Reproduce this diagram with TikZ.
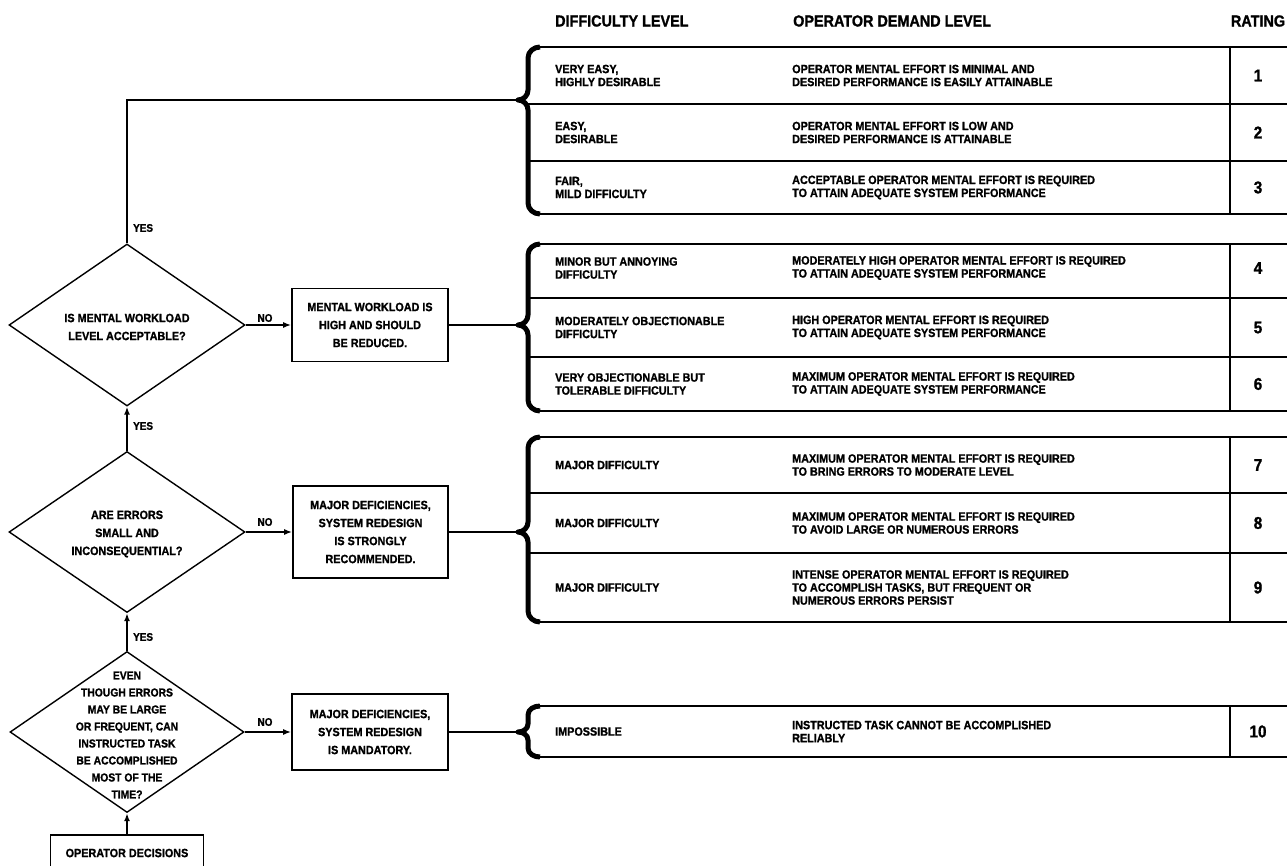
\documentclass[tikz,border=0pt]{standalone}
\usepackage{fontspec}
\setmainfont{Liberation Sans}[FakeStretch=0.9, BoldFeatures={FakeBold=1.2}]
\usetikzlibrary{shapes.geometric,arrows.meta,positioning}

\begin{document}
\begin{tikzpicture}[x=1pt, y=-1pt,
  trait/.style={line width=1.6pt},
  fleche/.style={trait, -{Latex[length=8pt,width=6pt]}},
  losange/.style={diamond, draw, line width=1.4pt, inner sep=0pt},
  boite/.style={draw, line width=1.6pt, inner sep=0pt, align=center,
    font=\fontsize{12}{18}\selectfont\bfseries},
  gras/.style={align=center, inner sep=0pt, font=\fontsize{12}{18}\selectfont\bfseries},
  etiq/.style={inner sep=0pt, font=\fontsize{11}{13}\selectfont\bfseries},
  titre/.style={inner sep=0pt, font=\fontsize{16}{18}\selectfont\bfseries},
  cellule/.style={anchor=west, align=left, inner sep=0pt,
    font=\fontsize{12}{13}\selectfont\bfseries},
  chiffre/.style={inner sep=0pt, font=\fontsize{17}{18}\selectfont\bfseries},
  accolade/.style={line width=5pt, line join=round},
  grille/.style={line width=1.8pt}]

% Paramètres
\def\xg{528}  % bord gauche des tableaux
\def\xn{1230} % colonne des notes
\def\xd{1300} % bord droit (hors cadre)

\path[use as bounding box] (0,0) rectangle (1287,866);
\clip (0,0) rectangle (1287,866);

% En-têtes
\node[titre, anchor=west] (h1) at (555,21) {DIFFICULTY LEVEL};
\node[titre, anchor=west] (h2) at (793,21) {OPERATOR DEMAND LEVEL};
\node[titre] (h3) at (1258,21) {RATING};

% Pointes des accolades
\coordinate (p1) at (\xg-10,100);
\coordinate (p2) at (\xg-10,325);
\coordinate (p3) at (\xg-10,532);
\coordinate (p4) at (\xg-10,732);

% Tableau 1 (notes 1 à 3)
\draw[grille] (\xg+8,47) -- (\xd,47) (\xg,104) -- (\xd,104) (\xg,161) -- (\xd,161)
  (\xg+8,214) -- (\xd,214) (\xn,47) -- (\xn,214);
\draw[accolade] (\xg+12,47) to[out=180,in=90] (\xg,58) -- (\xg,90)
  to[out=-90,in=0] (p1) to[out=0,in=90] (\xg,110) -- (\xg,203) to[out=-90,in=180] (\xg+12,214);

% Tableau 2 (notes 4 à 6)
\draw[grille] (\xg+8,244) -- (\xd,244) (\xg,298) -- (\xd,298) (\xg,357) -- (\xd,357)
  (\xg+8,411) -- (\xd,411) (\xn,244) -- (\xn,411);
\draw[accolade] (\xg+12,244) to[out=180,in=90] (\xg,255) -- (\xg,315)
  to[out=-90,in=0] (p2) to[out=0,in=90] (\xg,335) -- (\xg,400) to[out=-90,in=180] (\xg+12,411);

% Tableau 3 (notes 7 à 9)
\draw[grille] (\xg+8,437) -- (\xd,437) (\xg,493) -- (\xd,493) (\xg,553) -- (\xd,553)
  (\xg+8,622) -- (\xd,622) (\xn,437) -- (\xn,622);
\draw[accolade] (\xg+12,437) to[out=180,in=90] (\xg,448) -- (\xg,522)
  to[out=-90,in=0] (p3) to[out=0,in=90] (\xg,542) -- (\xg,611) to[out=-90,in=180] (\xg+12,622);

% Tableau 4 (note 10)
\draw[grille] (\xg+8,706) -- (\xd,706) (\xg+8,757) -- (\xd,757) (\xn,706) -- (\xn,757);
\draw[accolade] (\xg+12,706) to[out=180,in=90] (\xg,715) -- (\xg,724)
  to[out=-90,in=0] (p4) to[out=0,in=90] (\xg,740) -- (\xg,748) to[out=-90,in=180] (\xg+12,757);

% Lignes des tableaux
\node[cellule] (dif1) at (555,75.5) {VERY EASY,\\HIGHLY DESIRABLE};
\node[cellule] (dem1) at (792,75.5) {OPERATOR MENTAL EFFORT IS MINIMAL AND\\DESIRED PERFORMANCE IS EASILY ATTAINABLE};
\node[chiffre] (note1) at (1258,75.5) {1};

\node[cellule] (dif2) at (555,132.5) {EASY,\\DESIRABLE};
\node[cellule] (dem2) at (792,132.5) {OPERATOR MENTAL EFFORT IS LOW AND\\DESIRED PERFORMANCE IS ATTAINABLE};
\node[chiffre] (note2) at (1258,132.5) {2};

\node[cellule] (dif3) at (555,187.5) {FAIR,\\MILD DIFFICULTY};
\node[cellule] (dem3) at (792,187.5) {ACCEPTABLE OPERATOR MENTAL EFFORT IS REQUIRED\\TO ATTAIN ADEQUATE SYSTEM PERFORMANCE};
\node[chiffre] (note3) at (1258,187.5) {3};

\node[cellule] (dif4) at (555,268) {MINOR BUT ANNOYING\\DIFFICULTY};
\node[cellule] (dem4) at (792,268) {MODERATELY HIGH OPERATOR MENTAL EFFORT IS REQUIRED\\TO ATTAIN ADEQUATE SYSTEM PERFORMANCE};
\node[chiffre] (note4) at (1258,268) {4};

\node[cellule] (dif5) at (555,327.5) {MODERATELY OBJECTIONABLE\\DIFFICULTY};
\node[cellule] (dem5) at (792,327.5) {HIGH OPERATOR MENTAL EFFORT IS REQUIRED\\TO ATTAIN ADEQUATE SYSTEM PERFORMANCE};
\node[chiffre] (note5) at (1258,327.5) {5};

\node[cellule] (dif6) at (555,384) {VERY OBJECTIONABLE BUT\\TOLERABLE DIFFICULTY};
\node[cellule] (dem6) at (792,384) {MAXIMUM OPERATOR MENTAL EFFORT IS REQUIRED\\TO ATTAIN ADEQUATE SYSTEM PERFORMANCE};
\node[chiffre] (note6) at (1258,384) {6};

\node[cellule] (dif7) at (555,465) {MAJOR DIFFICULTY};
\node[cellule] (dem7) at (792,465) {MAXIMUM OPERATOR MENTAL EFFORT IS REQUIRED\\TO BRING ERRORS TO MODERATE LEVEL};
\node[chiffre] (note7) at (1258,465) {7};

\node[cellule] (dif8) at (555,523) {MAJOR DIFFICULTY};
\node[cellule] (dem8) at (792,523) {MAXIMUM OPERATOR MENTAL EFFORT IS REQUIRED\\TO AVOID LARGE OR NUMEROUS ERRORS};
\node[chiffre] (note8) at (1258,523) {8};

\node[cellule] (dif9) at (555,587.5) {MAJOR DIFFICULTY};
\node[cellule] (dem9) at (792,587.5) {INTENSE OPERATOR MENTAL EFFORT IS REQUIRED\\TO ACCOMPLISH TASKS, BUT FREQUENT OR\\NUMEROUS ERRORS PERSIST};
\node[chiffre] (note9) at (1258,587.5) {9};

\node[cellule] (dif10) at (555,731.5) {IMPOSSIBLE};
\node[cellule] (dem10) at (792,731.5) {INSTRUCTED TASK CANNOT BE ACCOMPLISHED\\RELIABLY};
\node[chiffre] (note10) at (1258,731.5) {10};

% Questions (losanges)
\node[losange, minimum width=236, minimum height=162] (q1) at (127,325) {};
\node[gras] (tq1) at (127,327) {IS MENTAL WORKLOAD\\LEVEL ACCEPTABLE?};
\node[losange, minimum width=236, minimum height=161] (q2) at (127,532) {};
\node[gras] (tq2) at (127,534) {ARE ERRORS\\SMALL AND\\INCONSEQUENTIAL?};
\node[losange, minimum width=234, minimum height=161] (q3) at (127,732) {};
\node[gras, font=\fontsize{11.5}{17}\selectfont\bfseries] (tq3) at (127,735)
  {EVEN\\THOUGH ERRORS\\MAY BE LARGE\\OR FREQUENT, CAN\\INSTRUCTED TASK\\BE ACCOMPLISHED\\MOST OF THE\\TIME?};

% Conclusions
\node[boite, minimum width=156, minimum height=73] (r1) at (370,325) {MENTAL WORKLOAD IS\\HIGH AND SHOULD\\BE REDUCED.};
\node[boite, minimum width=155, minimum height=92] (r2) at (370.5,532) {MAJOR DEFICIENCIES,\\SYSTEM REDESIGN\\IS STRONGLY\\RECOMMENDED.};
\node[boite, minimum width=156, minimum height=76] (r3) at (370,732) {MAJOR DEFICIENCIES,\\SYSTEM REDESIGN\\IS MANDATORY.};
\node[boite, minimum width=153, minimum height=60] (op) at (127,865) {};
\node[gras] (top) at (127,853) {OPERATOR DECISIONS};

% Étiquettes
\node[etiq, anchor=west] (oui1) at (133,228) {YES};
\node[etiq, anchor=west] (oui2) at (133,426) {YES};
\node[etiq, anchor=west] (oui3) at (133,637) {YES};
\node[etiq] (non1) at (265,318) {NO};
\node[etiq] (non2) at (265,522) {NO};
\node[etiq] (non3) at (265,722) {NO};

% Liaisons
\draw[trait] (q1.north) |- (p1);
\draw[fleche] (q1.east) -- (r1.west);
\draw[trait] (r1.east) -- (p2);
\draw[fleche] (q2.north) -- (q1.south);
\draw[fleche] (q2.east) -- (r2.west);
\draw[trait] (r2.east) -- (p3);
\draw[fleche] (q3.north) -- (q2.south);
\draw[fleche] (q3.east) -- (r3.west);
\draw[trait] (r3.east) -- (p4);
\draw[fleche] (op.north) -- (q3.south);

\end{tikzpicture}
\end{document}
